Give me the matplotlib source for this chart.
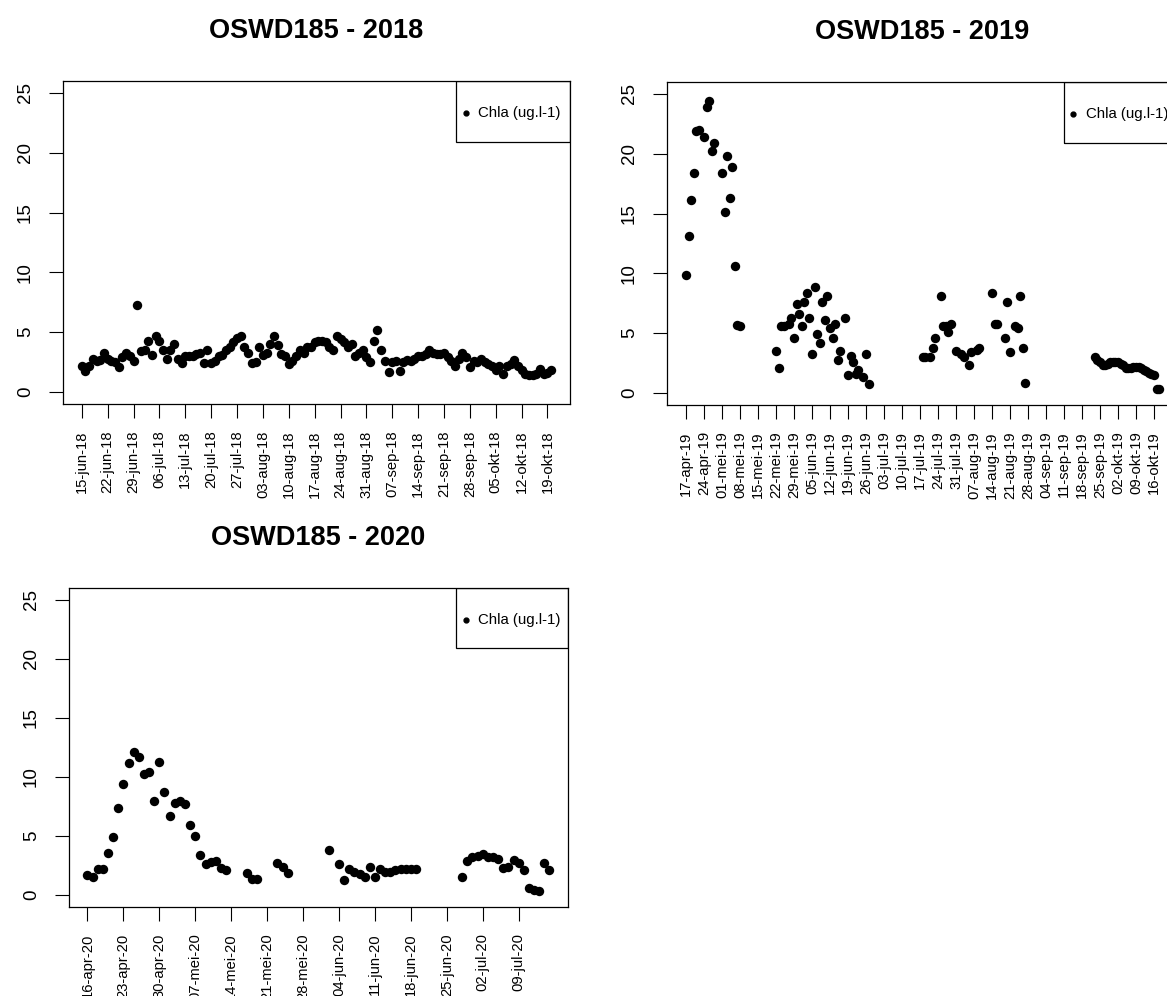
import matplotlib
matplotlib.use('Agg')
import matplotlib.pyplot as plt
import pandas as pd
from matplotlib.patches import Rectangle

plt.rcParams['font.family'] = ['Liberation Sans', 'DejaVu Sans']

# Dutch month abbreviations used on the date axis
months_nl = ['jan', 'feb', 'mrt', 'apr', 'mei', 'jun', 'jul', 'aug', 'sep', 'okt', 'nov', 'dec']

# ---- 2018: daily values from 15-jun-18 (day 0) to 20-okt-18 ----
start_2018 = '2018-06-15'
days_2018 = list(range(0, 128))
chla_2018 = [
    2.2, 1.75, 2.2, 2.8, 2.6, 2.7, 3.25, 2.8, 2.6, 2.5,
    2.1, 2.9, 3.3, 3.0, 2.6, 7.3, 3.4, 3.5, 4.3, 3.1,
    4.7, 4.3, 3.5, 2.8, 3.5, 4.0, 2.8, 2.4, 3.05, 3.0,
    3.05, 3.2, 3.3, 2.4, 3.5, 2.4, 2.6, 3.0, 3.1, 3.5,
    3.75, 4.2, 4.5, 4.7, 3.75, 3.3, 2.4, 2.5, 3.75, 3.1,
    3.3, 4.0, 4.65, 3.9, 3.2, 3.05, 2.3, 2.6, 3.05, 3.5,
    3.3, 3.75, 3.8, 4.2, 4.3, 4.3, 4.2, 3.75, 3.5, 4.65,
    4.45, 4.2, 3.75, 4.0, 3.05, 3.3, 3.5, 2.9, 2.5, 4.3,
    5.15, 3.5, 2.6, 1.65, 2.5, 2.6, 1.75, 2.5, 2.7, 2.6,
    2.8, 3.0, 3.05, 3.2, 3.5, 3.3, 3.2, 3.2, 3.3, 2.9,
    2.6, 2.15, 2.8, 3.25, 2.9, 2.1, 2.6, 2.5, 2.8, 2.5,
    2.35, 2.2, 1.85, 2.2, 1.5, 2.2, 2.35, 2.7, 2.2, 1.85,
    1.5, 1.45, 1.45, 1.5, 1.95, 1.5, 1.6, 1.8,
]

# ---- 2019: day 0 = 17-apr-19 ----
start_2019 = '2019-04-17'
days_2019 = [0, 1, 2, 3, 4, 5, 7, 8, 9, 10, 11, 14, 15, 16, 17, 18, 19, 20, 21,
             35, 36, 37, 38, 40, 41, 42, 43, 44, 45, 46, 47, 48, 49, 50, 51, 52, 53,
             54, 55, 56, 57, 58, 59, 60, 62, 63, 64, 65, 66, 67, 69, 70, 71,
             92, 93, 95, 96, 97, 99, 100, 101, 102, 103, 105, 107, 108, 110, 111,
             113, 114, 119, 120, 121, 124, 125, 126, 128, 129, 130, 131, 132,
             159, 160, 161, 162, 163, 164, 165, 166, 167, 168, 169, 170, 171, 172,
             173, 174, 175, 176, 177, 178, 179, 180, 181, 182, 183, 184]
chla_2019 = [9.9, 13.1, 16.1, 18.4, 21.9, 22.0, 21.4, 23.9, 24.4, 20.2, 20.9, 18.4,
             15.1, 19.8, 16.3, 18.9, 10.6, 5.7, 5.6,
             3.5, 2.1, 5.6, 5.6, 5.8, 6.3, 4.6, 7.4, 6.6, 5.6, 7.6, 8.4, 6.3, 3.3,
             8.9, 4.9, 4.2, 7.6, 6.1, 8.1, 5.4, 4.6, 5.8, 2.8, 3.5, 6.3, 1.5, 3.1,
             2.6, 1.6, 1.9, 1.3, 3.3, 0.75,
             3.0, 3.0, 3.0, 3.8, 4.6, 8.1, 5.6, 5.6, 5.1, 5.8, 3.5, 3.3, 3.0, 2.3,
             3.4, 3.6, 3.8, 8.35, 5.8, 5.8, 4.6, 7.6, 3.4, 5.6, 5.4, 8.1, 3.8, 0.8,
             3.0, 2.8, 2.6, 2.3, 2.3, 2.4, 2.6, 2.6, 2.6, 2.6, 2.4, 2.3, 2.1, 2.1,
             2.1, 2.15, 2.15, 2.15, 2.1, 1.9, 1.8, 1.7, 1.6, 1.5, 0.35, 0.35]

# ---- 2020: day 0 = 16-apr-20 ----
start_2020 = '2020-04-16'
days_2020 = [0, 1, 2, 3, 4, 5, 6, 7, 8, 9, 10, 11, 12, 13, 14, 15, 16, 17, 18, 19,
             20, 21, 22, 23, 24, 25, 26, 27, 31, 32, 33, 37, 38, 39,
             47, 49, 50, 51, 52, 53, 54, 55, 56, 57, 58, 59, 60, 61, 62, 63, 64,
             73, 74, 75, 76, 77, 78, 79, 80, 81, 82, 83, 84, 85, 86, 87, 88, 89, 90]
chla_2020 = [1.7, 1.5, 2.2, 2.2, 3.6, 4.9, 7.4, 9.4, 11.2, 12.1, 11.7, 10.25, 10.4,
             8.0, 11.3, 8.7, 6.7, 7.8, 8.0, 7.7, 5.9, 5.0, 3.4, 2.6, 2.8, 2.9, 2.3, 2.1,
             1.9, 1.35, 1.35, 2.7, 2.4, 1.9,
             3.8, 2.6, 1.3, 2.2, 2.0, 1.8, 1.55, 2.4, 1.5, 2.2, 2.0, 2.0, 2.1, 2.2,
             2.2, 2.2, 2.2,
             1.55, 2.9, 3.2, 3.3, 3.45, 3.2, 3.2, 3.1, 2.3, 2.4, 3.0, 2.7, 2.1, 0.6,
             0.4, 0.35, 2.7, 2.1]

# number of weekly tick labels per panel
n_ticks_2018 = 19
n_ticks_2019 = 27
n_ticks_2020 = 13

legend_label = 'Chla (ug.l-1)'
y_ticks = [0, 5, 10, 15, 20, 25]


def week_labels(start, n):
    dates = pd.date_range(start, periods=n, freq='7D')
    return [f"{d.day:02d}-{months_nl[d.month - 1]}-{d.strftime('%y')}" for d in dates]


def draw_panel(ax, days, values, start, n_ticks, title):
    ax.scatter(days, values, s=46, color='black', linewidths=0, zorder=3)
    span = max(days) - min(days)
    ax.set_xlim(min(days) - 0.04 * span, max(days) + 0.04 * span)
    ax.set_ylim(-1, 26)

    ticks = [7 * i for i in range(n_ticks)]
    ax.set_xticks(ticks)
    ax.set_xticklabels(week_labels(start, n_ticks), rotation=90, fontsize=10.6)
    ax.set_yticks(y_ticks)
    ax.set_yticklabels([str(t) for t in y_ticks], rotation=90, va='center', fontsize=13.5)
    ax.tick_params(axis='x', length=10, width=0.8, pad=9)
    ax.tick_params(axis='y', length=10, width=0.8, pad=11)
    for sp in ax.spines.values():
        sp.set_linewidth(0.9)
    ax.set_title(title, fontsize=19.5, fontweight='bold', pad=31)

    # legend box in the top right corner, R style
    ax.add_patch(Rectangle((0.776, 0.811), 0.224, 0.189, transform=ax.transAxes,
                           fill=False, edgecolor='black', linewidth=0.9, zorder=4))
    ax.plot([0.795], [0.9], 'o', color='black', markersize=3.5,
            transform=ax.transAxes, zorder=5)
    ax.text(0.819, 0.9, legend_label, transform=ax.transAxes, fontsize=10.8,
            va='center', ha='left', zorder=5)


fig = plt.figure(figsize=(11.67, 9.96), dpi=100)
ax1 = fig.add_axes([0.0540, 0.5944, 0.4344, 0.3243])
ax2 = fig.add_axes([0.5716, 0.5934, 0.4379, 0.3243])
ax3 = fig.add_axes([0.0591, 0.0894, 0.4276, 0.3203])

draw_panel(ax1, days_2018, chla_2018, start_2018, n_ticks_2018, 'OSWD185 - 2018')
draw_panel(ax2, days_2019, chla_2019, start_2019, n_ticks_2019, 'OSWD185 - 2019')
draw_panel(ax3, days_2020, chla_2020, start_2020, n_ticks_2020, 'OSWD185 - 2020')

fig.savefig('out.png', dpi=100)
